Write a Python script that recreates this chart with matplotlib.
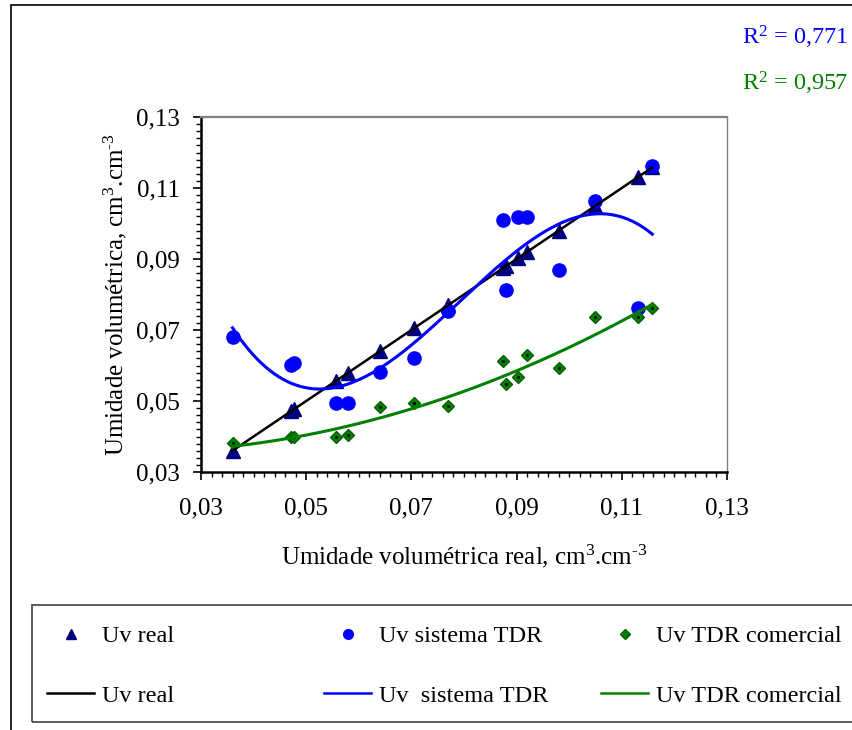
import numpy as np
import matplotlib
matplotlib.use('Agg')
import matplotlib.pyplot as plt
from matplotlib.patches import Rectangle

plt.rcParams['font.family'] = 'Liberation Serif'
plt.rcParams['mathtext.fontset'] = 'custom'
plt.rcParams['mathtext.rm'] = 'Liberation Serif'
plt.rcParams['mathtext.it'] = 'Liberation Serif:italic'

# umidade volumetrica real (eixo x) e leituras
uv_real = [0.0360, 0.0472, 0.0477, 0.0557, 0.0580, 0.0640, 0.0705, 0.0770,
           0.0875, 0.0880, 0.0903, 0.0920, 0.0980, 0.1050, 0.1130, 0.1158]
uv_tdr = [0.0680, 0.0602, 0.0607, 0.0494, 0.0494, 0.0582, 0.0621, 0.0754,
          0.1010, 0.0813, 0.1018, 0.1018, 0.0869, 0.1063, 0.0762, 0.1162]
uv_comercial = [0.0382, 0.0398, 0.0400, 0.0399, 0.0404, 0.0483, 0.0494, 0.0486,
                0.0613, 0.0548, 0.0568, 0.0630, 0.0593, 0.0737, 0.0737, 0.0762]
r2_textos = ['R$^2$ = 0,771', 'R$^2$ = 0,957']
ticks = [0.03, 0.05, 0.07, 0.09, 0.11, 0.13]
tick_labels = ['0,03', '0,05', '0,07', '0,09', '0,11', '0,13']

fig = plt.figure(figsize=(8.53, 7.3), dpi=100)
ax = fig.add_axes([201/853, 1-472/730, (727-201)/853, (472-117)/730])

x = np.array(uv_real)
xs = np.linspace(x.min(), x.max(), 300)
p1 = np.polyfit(x, uv_real, 1)   # linha de tendencia linear
p3 = np.polyfit(x, uv_tdr, 3)    # polinomial grau 3
p2 = np.polyfit(x, uv_comercial, 2)  # polinomial grau 2

ax.plot(x, uv_real, '^', color='#000080', ms=9.5, zorder=3)
ax.plot(x, uv_tdr, 'o', color='#0000FF', ms=9.5, zorder=3)
ax.plot(x, uv_comercial, 'D', color='#008000', mec='#006000', ms=6.5, zorder=3)
ax.plot(x, uv_comercial, '.', color='black', ms=2.5, zorder=3)

ax.plot(xs, np.polyval(p1, xs), color='black', lw=1.8, zorder=4)
ax.plot(xs, np.polyval(p3, xs), color='#0000FF', lw=2.2, zorder=4)
ax.plot(xs, np.polyval(p2, xs), color='#008000', lw=2.2, zorder=4)

ax.set_xlim(0.03, 0.13)
ax.set_ylim(0.03, 0.13)
ax.set_xticks(ticks)
ax.set_xticklabels(tick_labels)
ax.set_yticks(ticks)
ax.set_yticklabels(tick_labels)
ax.set_xticks(np.arange(0.03, 0.1301, 0.002), minor=True)
ax.set_yticks(np.arange(0.03, 0.1301, 0.002), minor=True)
ax.tick_params(which='major', direction='out', length=6, width=1.2, labelsize=18, color='black')
ax.tick_params(which='minor', direction='out', length=3.5, width=1, color='black')
ax.tick_params(axis='x', which='major', pad=12)
ax.tick_params(axis='y', which='major', pad=9)
ax.spines['left'].set_linewidth(1.8)
ax.spines['bottom'].set_linewidth(1.8)
ax.spines['top'].set_color('#808080')
ax.spines['top'].set_linewidth(1.6)
ax.spines['right'].set_color('#808080')
ax.spines['right'].set_linewidth(1)

ax.set_xlabel(r'Umidade volumétrica real, cm$^3$.cm$^{\text{-3}}$', fontsize=18, labelpad=17)
ax.set_ylabel(r'Umidade volumétrica, cm$^3$.cm$^{\text{-3}}$', fontsize=18, labelpad=5)

# valores de R2
fig.text(848/853, 1-37/730, r2_textos[0], color='#0000FF', fontsize=17.5, ha='right', va='center')
fig.text(848/853, 1-83/730, r2_textos[1], color='#008000', fontsize=17.5, ha='right', va='center')

# moldura externa e caixa da legenda
fig.patches.append(Rectangle((11/853, -0.1), 1.2, 1.1-5/730, transform=fig.transFigure,
                             fill=False, ec='black', lw=1.2))
fig.patches.append(Rectangle((32/853, 1-722/730), 1.0, (722-605)/730, transform=fig.transFigure,
                             fill=False, ec='#404040', lw=1.2))

h_tri = plt.Line2D([], [], marker='^', ls='', color='#000080', ms=7)
h_circ = plt.Line2D([], [], marker='o', ls='', color='#0000FF', ms=7)
h_diam = plt.Line2D([], [], marker='D', ls='', color='#008000', mec='#006000', ms=5)
h_l1 = plt.Line2D([], [], color='black', lw=1.8)
h_l2 = plt.Line2D([], [], color='#0000FF', lw=1.8)
h_l3 = plt.Line2D([], [], color='#008000', lw=1.8)

cols = [([h_tri, h_l1], ['Uv real', 'Uv real'], 47),
        ([h_circ, h_l2], ['Uv sistema TDR', 'Uv  sistema TDR'], 324),
        ([h_diam, h_l3], ['Uv TDR comercial', 'Uv TDR comercial'], 601)]
for hs, labs, x0 in cols:
    leg = fig.legend(hs, labs, loc='upper left', bbox_to_anchor=(x0/853, 1-625/730),
                     frameon=False, fontsize=17.5, handlelength=1.95, handletextpad=0.3,
                     borderpad=0, borderaxespad=0, labelspacing=1.55)

fig.savefig('out.png', dpi=100)
